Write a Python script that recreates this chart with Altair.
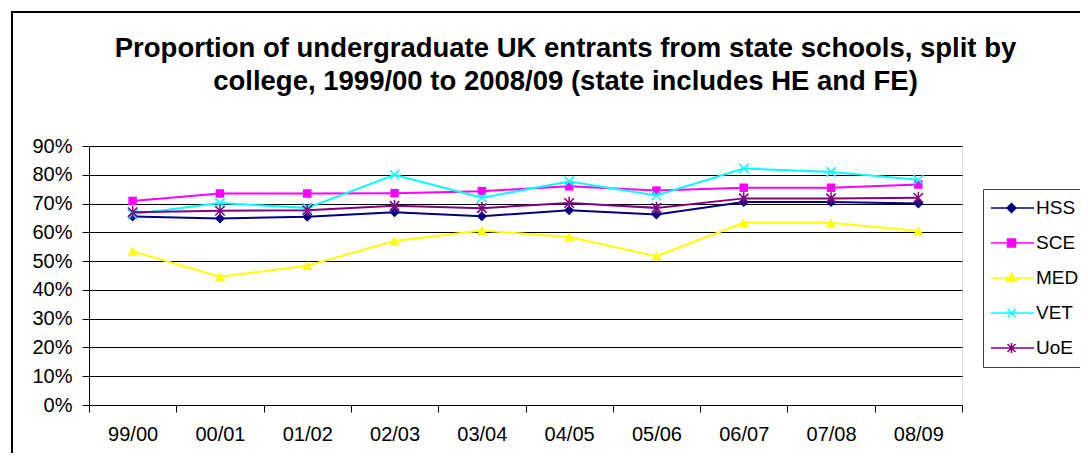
import altair as alt
import pandas as pd

years = ["99/00", "00/01", "01/02", "02/03", "03/04", "04/05", "05/06", "06/07", "07/08", "08/09"]
series = ["HSS", "SCE", "MED", "VET", "UoE"]
colors = ["#000080", "#FF00FF", "#FFFF00", "#00FFFF", "#800080"]

HSS = [65.5, 64.8, 65.4, 67.0, 65.6, 67.7, 66.2, 70.5, 70.5, 70.0]
SCE = [70.9, 73.5, 73.5, 73.6, 74.3, 76.0, 74.5, 75.5, 75.5, 76.6]
MED = [53.4, 44.6, 48.4, 57.0, 60.6, 58.4, 51.7, 63.3, 63.3, 60.5]
VET = [66.3, 70.2, 68.5, 80.0, 72.0, 77.7, 72.8, 82.2, 81.0, 78.3]
UoE = [67.0, 67.5, 67.7, 69.2, 68.4, 70.2, 68.5, 71.8, 71.8, 72.0]

title_lines = [
    "Proportion of undergraduate UK entrants from state schools, split by",
    "college, 1999/00 to 2008/09 (state includes HE and FE)",
]

values = {"HSS": HSS, "SCE": SCE, "MED": MED, "VET": VET, "UoE": UoE}
rows = []
for s in series:
    for i, (yr, v) in enumerate(zip(years, values[s])):
        rows.append({"year": yr, "idx": i, "series": s, "value": v / 100.0})
df = pd.DataFrame(rows)

FONT = "Liberation Sans"

# marker shapes in the plot
point_shapes = {
    "HSS": ("diamond", True, 100),
    "SCE": ("square", True, 72),
    "MED": ("triangle-up", True, 110),
    "VET": ("M-1,-1L1,1M-1,1L1,-1", False, 90),
    "UoE": ("M-1,-1L1,1M-1,1L1,-1M0,-1.3L0,1.3", False, 90),
}
# legend symbols: line + marker
LINE = "M-4.5,0L4.5,0"
legend_paths = [
    LINE + "M0,-0.9L0.9,0L0,0.9L-0.9,0Z",
    LINE + "M-0.8,-0.8L0.8,-0.8L0.8,0.8L-0.8,0.8Z",
    LINE + "M0,-0.95L0.95,0.7L-0.95,0.7Z",
    LINE + "M-0.8,-0.8L0.8,0.8M-0.8,0.8L0.8,-0.8",
    LINE + "M-0.8,-0.8L0.8,0.8M-0.8,0.8L0.8,-0.8M0,-1L0,1",
]

x_enc = alt.X(
    "year:N",
    sort=years,
    scale=alt.Scale(type="band", paddingInner=0, paddingOuter=0),
    bandPosition=0.5,
    axis=alt.Axis(
        title=None,
        labelAngle=0,
        tickBand="extent",
        grid=False,
        domainColor="black",
        tickColor="black",
        tickSize=7,
        labelPadding=12,
        labelFontSize=20,
        labelFont=FONT,
        labelColor="black",
    ),
)
y_enc = alt.Y(
    "value:Q",
    scale=alt.Scale(domain=[0, 0.9], nice=False, zero=True),
    axis=alt.Axis(
        title=None,
        format=".0%",
        values=[i / 10 for i in range(10)],
        grid=True,
        gridColor="black",
        gridWidth=1,
        domainColor="black",
        tickColor="black",
        tickSize=7,
        labelPadding=10,
        labelFontSize=20,
        labelFont=FONT,
        labelColor="black",
    ),
)

base = alt.Chart(df)

series_layers = []
for s, col in zip(series, colors):
    shp, filled, size = point_shapes[s]
    sub = base.transform_filter(alt.datum.series == s)
    series_layers.append(
        sub.mark_line(strokeWidth=2, color=col).encode(
            x=x_enc, y=y_enc, order=alt.Order("idx:Q")
        )
    )
    series_layers.append(
        sub.mark_point(
            shape=shp, filled=filled, size=size, strokeWidth=1.5, opacity=1, color=col
        ).encode(x=x_enc, y=y_enc)
    )

leg = alt.Legend(
    title=None,
    orient="none",
    legendX=894,
    legendY=43,
    labelFontSize=19,
    labelFont=FONT,
    labelColor="black",
    symbolSize=100,
    symbolStrokeWidth=1.5,
    symbolOffset=11,
    labelOffset=15,
    padding=8,
    rowPadding=13,
    clipHeight=22,
    strokeColor="#404040",
    fillColor="white",
    symbolOpacity=1,
)

legend_layer = base.mark_point(filled=True, opacity=0).encode(
    x=x_enc,
    y=y_enc,
    color=alt.Color("series:N", scale=alt.Scale(domain=series, range=colors), legend=leg),
    stroke=alt.Stroke("series:N", scale=alt.Scale(domain=series, range=colors), legend=leg),
    shape=alt.Shape("series:N", scale=alt.Scale(domain=series, range=legend_paths), legend=leg),
)

frame = alt.Chart(pd.DataFrame({"a": [0]})).mark_rect(
    fill="white", fillOpacity=0, stroke="black", strokeWidth=2
).encode(
    x=alt.value(-77), x2=alt.value(1100), y=alt.value(-134), y2=alt.value(400)
)

chart = (
    alt.layer(frame, *series_layers, legend_layer)
    .properties(
        width=873,
        height=259,
        autosize=alt.AutoSizeParams(type="none"),
        padding={"left": 81, "top": 138, "right": 118, "bottom": 48},
        title=alt.TitleParams(
            text=title_lines,
            fontSize=27.5,
            font=FONT,
            fontWeight="bold",
            color="black",
            anchor="middle",
            dx=40,
            offset=-84,
            lineHeight=33,
        ),
    )
    .configure_view(stroke="#808080", strokeWidth=1)
    .configure(background="white")
)

chart.save("out.html", embed_options={"renderer": "svg", "actions": False})
